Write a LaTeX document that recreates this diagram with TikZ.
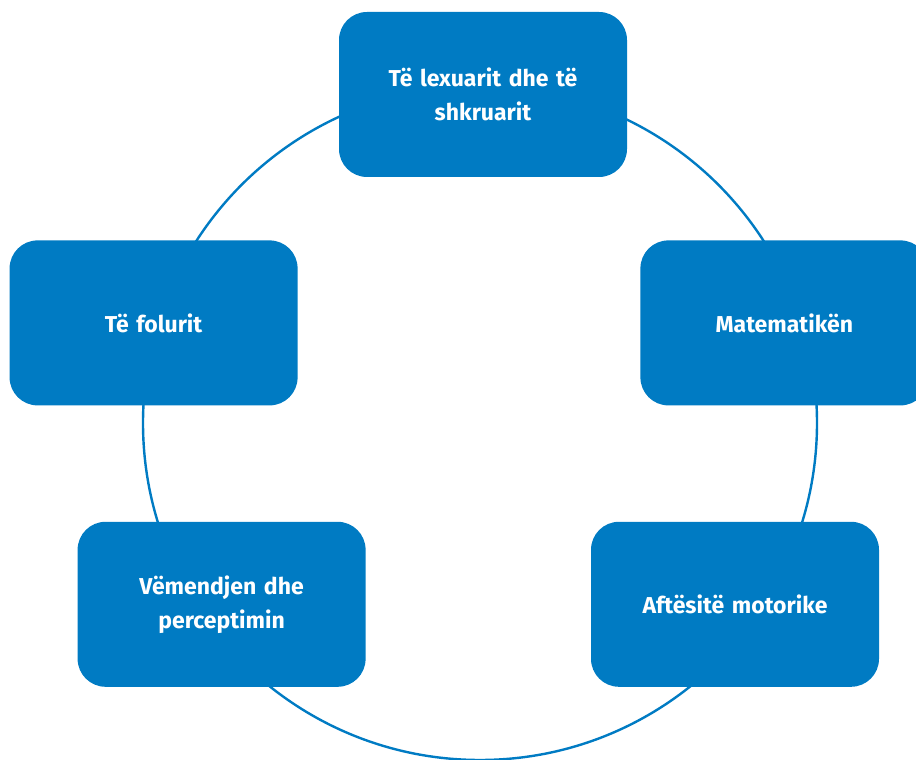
\documentclass[tikz,border=0pt]{standalone}
\usepackage{fontspec}
\setmainfont{Fira Sans}
\usepackage{tikz}
\usetikzlibrary{positioning}
\definecolor{skillblue}{HTML}{007BC3}
\tikzset{skill node/.style={rectangle,rounded corners=28pt,fill=skillblue,text=white,
    minimum width=288pt,minimum height=165pt,inner sep=0pt,text width=260pt,align=center,
    font=\bfseries\fontsize{23}{34}\selectfont}}
\tikzset{ring/.style={draw=skillblue,line width=2.4pt}}

\begin{document}
\begin{tikzpicture}[x=1pt,y=1pt]
            \useasboundingbox (0,0) rectangle (916,760);
            \coordinate (O) at (480,337);
            \draw[ring] (O) circle (337pt);

            \node[skill node] (lex) at (483,665.5) {Të lexuarit dhe të\\shkruarit};
            \node[skill node] (fol) [below left = 63pt and 41pt of lex] {Të folurit};
            \node[skill node] (mat) [below right = 63pt and 13pt of lex] {Matematikën};
            \node[skill node] (vem) [below = 116pt of fol, xshift=68pt] {Vëmendjen dhe\\perceptimin};
            \node[skill node] (aft) [right = 225pt of vem] {Aftësitë motorike};
        \end{tikzpicture}
\end{document}
